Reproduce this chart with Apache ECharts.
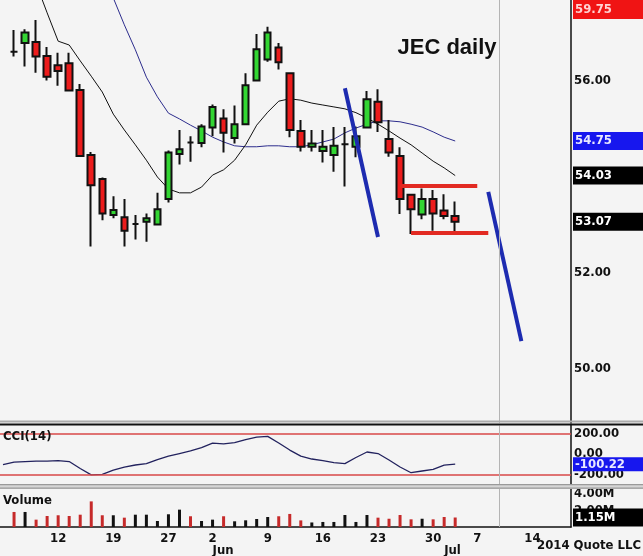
<!DOCTYPE html>
<html>
<head>
<meta charset="utf-8">
<script src="https://cdn.jsdelivr.net/npm/echarts@6/dist/echarts.min.js"></script>
<style>
  html, body { margin: 0; padding: 0; background: #f4f4f4; }
  #chart { width: 643px; height: 556px; }
</style>
</head>
<body>
<div id="chart"></div>
<script>
//---------------------------Data---------------------------
//trading slots (May 5 has no candle, after Jul 2 is empty future space)
let dates = ['May 5','May 6','May 7','May 8','May 9','May 12','May 13','May 14','May 15','May 16',
  'May 19','May 20','May 21','May 22','May 23','May 27','May 28','May 29','May 30',
  'Jun 2','Jun 3','Jun 4','Jun 5','Jun 6','Jun 9','Jun 10','Jun 11','Jun 12','Jun 13',
  'Jun 16','Jun 17','Jun 18','Jun 19','Jun 20','Jun 23','Jun 24','Jun 25','Jun 26','Jun 27',
  'Jun 30','Jul 1','Jul 2','Jul 3','Jul 7','Jul 8','Jul 9','Jul 10','Jul 11',
  'Jul 14','Jul 15','Jul 16','Jul 17'];

//candles May 6 .. Jul 2
let opens  = [56.61,56.79,56.81,56.52,56.33,56.37,55.81,54.46,53.96,53.21,53.16,53.02,53.07,53.01,53.54,54.48,54.72,54.71,
  55.03,55.22,54.81,55.10,56.01,56.45,56.70,56.16,54.96,54.63,54.54,54.46,54.68,54.63,55.03,55.57,54.79,54.44,53.63,53.22,53.54,53.30,53.19];
let closes = [56.61,57.01,56.51,56.09,56.21,55.80,54.44,53.83,53.24,53.31,52.88,53.02,53.14,53.33,54.51,54.58,54.72,55.05,
  55.46,54.92,55.10,55.91,56.66,57.01,56.39,54.98,54.63,54.70,54.63,54.65,54.68,54.85,55.62,55.14,54.51,53.54,53.33,53.54,53.24,53.19,53.07];
let lows   = [56.51,56.30,56.17,56.01,55.90,55.78,54.42,52.55,53.10,53.14,52.55,52.70,52.65,53.00,53.47,54.26,54.32,54.62,
  54.85,54.51,54.70,55.08,56.00,56.40,56.24,54.83,54.53,54.53,54.30,54.11,53.80,54.41,55.02,54.94,54.42,53.23,52.81,53.12,52.88,53.12,52.86];
let highs  = [57.06,57.08,57.27,56.71,56.59,56.59,55.94,54.52,53.99,53.60,53.54,53.21,53.24,53.67,54.55,54.98,54.85,55.10,
  55.51,55.41,55.49,56.16,56.98,57.13,56.79,56.17,55.19,54.98,54.98,55.04,55.04,55.05,55.79,55.83,55.19,54.62,53.65,53.76,53.73,53.64,53.49];

//moving averages May 5 .. Jul 2 (early values run above the top)
let ma10 = [59.8,59.25,58.6,58.03,57.42,56.83,56.75,56.42,56.10,55.77,55.31,54.98,54.67,54.35,54.00,53.75,53.67,53.67,53.79,
  54.04,54.15,54.35,54.67,55.08,55.35,55.58,55.63,55.60,55.54,55.50,55.46,55.42,55.34,55.23,55.10,54.96,54.81,54.67,54.50,54.33,54.19,54.03];
let ma20 = [61.3,61.1,60.9,60.6,60.3,59.9,59.6,59.2,58.75,58.25,57.73,57.17,56.65,56.08,55.67,55.33,55.21,55.08,54.96,
  54.83,54.73,54.65,54.63,54.63,54.65,54.65,54.63,54.63,54.67,54.73,54.79,54.92,55.02,55.10,55.17,55.17,55.15,55.10,55.04,54.94,54.83,54.75];

//CCI(14) May 5 .. Jul 2
let cci = [-105,-79,-74,-69,-69,-64,-74,-143,-205,-200,-158,-128,-108,-94,-54,-20,5,30,64,108,101,113,143,167,174,108,39,-20,-49,
  -64,-84,-94,-34,20,5,-59,-128,-184,-167,-151,-110,-100.22];

//volume in millions May 6 .. Jul 2, and bar colour (1 black, 0 red)
let volume = [1.82,1.82,0.89,1.33,1.42,1.33,1.49,3.1,1.42,1.42,1.13,1.49,1.49,0.73,1.54,2.1,1.3,0.73,0.89,1.3,0.69,0.81,0.97,1.21,
  1.3,1.58,0.8,0.55,0.61,0.61,1.45,0.61,1.45,1.13,1.0,1.45,0.93,1.0,0.93,1.21,1.15];
let volUp = [0,1,0,0,0,0,0,0,0,1,0,1,1,1,1,1,0,1,1,0,1,1,1,1,0,0,0,1,1,1,1,1,1,0,0,0,0,1,0,0,0];

//axis labels
let weekTicks = ['May 12','May 19','May 27','Jun 2','Jun 9','Jun 16','Jun 23','Jun 30','Jul 7','Jul 14'];
let monthTicks = ['Jun 2','Jul 1'];
let priceTicks = [50, 52, 56];
let cciTicks = [200, 0, -200];
let volTicks = [2, 4];

//last value tags
let tagTop = 59.75;
let tagMa20 = 54.75;
let tagMa10 = 54.03;
let tagClose = 53.07;
let tagCci = -100.22;
let tagVol = 1.15;

//hand drawn annotations
let blueLines = [[['Jun 18', 55.85], ['Jun 23', 52.75]], [['Jul 8', 53.69], ['Jul 11', 50.58]]];
let redLines = [[['Jun 25', 53.81], ['Jul 7', 53.81]], [['Jun 26', 52.83], ['Jul 8', 52.83]]];
let todayLine = 'Jul 9';

//---------------------------UI---------------------------
let chart = echarts.init(document.getElementById('chart'));
let narrow = '"Liberation Sans Narrow", "DejaVu Sans Condensed", sans-serif';
let lblFont = { fontFamily: narrow, fontWeight: 'bold', fontSize: 13, color: '#111' };

let candleData = dates.map(function (d, i) {
    let k = i - 1;
    if (k < 0 || k >= opens.length) return '-';
    return [opens[k], closes[k], lows[k], highs[k]];
});

let volData = dates.map(function (d, i) {
    let k = i - 1;
    if (k < 0 || k >= volume.length) return '-';
    return { value: volume[k], itemStyle: { color: volUp[k] ? '#111' : '#c62a2a' } };
});

//value box on the right axis
function tag(v, text, bg, fg, h) {
    return {
        yAxis: v,
        lineStyle: { color: 'rgba(0,0,0,0)', width: 0 },
        label: {
            show: true, position: 'end', distance: 2, formatter: text,
            backgroundColor: bg, color: fg, fontFamily: narrow, fontWeight: 'bold', fontSize: 13,
            width: 68, height: h, lineHeight: h, padding: [0, 0, 0, 2], align: 'left', verticalAlign: 'middle'
        }
    };
}

function segs(list, color) {
    return list.map(function (s) {
        return [{ coord: s[0], lineStyle: { color: color, width: 4, type: 'solid' } }, { coord: s[1] }];
    });
}

let vline = { xAxis: todayLine, lineStyle: { color: '#b4b4b4', width: 1, type: 'solid' }, label: { show: false } };
let gridBase = { left: -2.5, right: 72, outerBoundsMode: 'none' };
let axisLineY = { show: true, lineStyle: { color: '#111', width: 1.5 } };

option = {
    backgroundColor: '#f4f4f4',
    animation: false,
    grid: [
        Object.assign({ top: 0, height: 423 }, gridBase),
        Object.assign({ top: 425.6, height: 58.9 }, gridBase),
        Object.assign({ top: 489, height: 38 }, gridBase)
    ],
    xAxis: [
        { type: 'category', gridIndex: 0, data: dates, axisLine: { show: false }, axisTick: { show: false }, axisLabel: { show: false } },
        { type: 'category', gridIndex: 1, data: dates, axisLine: { show: false }, axisTick: { show: false }, axisLabel: { show: false } },
        { type: 'category', gridIndex: 2, data: dates,
          axisLine: { lineStyle: { color: '#111', width: 1.5 } }, axisTick: { show: false },
          axisLabel: Object.assign({ margin: 5, interval: function (i, v) { return weekTicks.indexOf(v) >= 0; },
              formatter: function (v) { return v.split(' ')[1]; } }, lblFont) },
        { type: 'category', gridIndex: 2, data: dates, position: 'bottom',
          axisLine: { show: false }, axisTick: { show: false },
          axisLabel: Object.assign({ margin: 17, align: 'left', interval: function (i, v) { return monthTicks.indexOf(v) >= 0; },
              formatter: function (v) { return v.split(' ')[0]; } }, lblFont) }
    ],
    yAxis: [
        { type: 'value', gridIndex: 0, position: 'right', min: 48.875, max: 57.6875,
          axisLine: axisLineY, axisTick: { show: false }, splitLine: { show: false },
          axisLabel: Object.assign({ margin: 3, customValues: priceTicks, formatter: function (v) { return v.toFixed(2); } }, lblFont) },
        { type: 'value', gridIndex: 1, position: 'right', min: -300, max: 280,
          axisLine: axisLineY, axisTick: { show: false }, splitLine: { show: false },
          axisLabel: Object.assign({ margin: 3, customValues: cciTicks, formatter: function (v) { return v.toFixed(2); } }, lblFont) },
        { type: 'value', gridIndex: 2, position: 'right', min: 0, max: 4.6,
          axisLine: axisLineY, axisTick: { show: false }, splitLine: { show: false },
          axisLabel: Object.assign({ margin: 3, customValues: volTicks, formatter: function (v) { return v.toFixed(2) + 'M'; } }, lblFont) }
    ],
    series: [
        { type: 'line', xAxisIndex: 0, yAxisIndex: 0, data: ma20, symbol: 'none', z: 3, clip: true,
          lineStyle: { color: '#2c2c8c', width: 1 } },
        { type: 'line', xAxisIndex: 0, yAxisIndex: 0, data: ma10, symbol: 'none', z: 3, clip: true,
          lineStyle: { color: '#111', width: 1 } },
        { type: 'candlestick', xAxisIndex: 0, yAxisIndex: 0, data: candleData, barWidth: 7, z: 4, clip: false,
          itemStyle: { color: '#33d633', color0: '#ec1c1c', borderColor: '#111', borderColor0: '#111', borderWidth: 2 },
          markLine: { silent: true, symbol: ['none', 'none'], animation: false, label: { show: false }, z: 6,
              data: segs(blueLines, '#1d2bb0').concat(segs(redLines, '#e22a22')).concat([
                  vline,
                  tag(tagMa20, tagMa20.toFixed(2), '#1717ee', '#e8e8ff', 18),
                  tag(tagMa10, tagMa10.toFixed(2), '#000', '#fff', 18),
                  tag(tagClose, tagClose.toFixed(2), '#000', '#fff', 18)
              ]) } },
        { type: 'line', xAxisIndex: 1, yAxisIndex: 1, data: cci, symbol: 'none', clip: false,
          lineStyle: { color: '#22225e', width: 1.3 },
          markLine: { silent: true, symbol: 'none', animation: false,
              data: [
                  { yAxis: 200, lineStyle: { color: '#d84848', width: 1.5, type: 'solid' }, label: { show: false } },
                  { yAxis: -200, lineStyle: { color: '#d84848', width: 1.5, type: 'solid' }, label: { show: false } },
                  vline,
                  tag(tagCci, tagCci.toFixed(2), '#1717ee', '#e8e8ff', 14)
              ] } },
        { type: 'bar', xAxisIndex: 2, yAxisIndex: 2, data: volData, barWidth: 3, clip: false,
          markLine: { silent: true, symbol: 'none', animation: false,
              data: [vline, tag(tagVol, tagVol.toFixed(2) + 'M', '#000', '#fff', 18)] } }
    ],
    graphic: [
        //panel separators
        { type: 'rect', shape: { x: 0, y: 420.5, width: 643, height: 2 }, style: { fill: '#ababab' }, z: 50 },
        { type: 'rect', shape: { x: 0, y: 423.5, width: 643, height: 2 }, style: { fill: '#111' }, z: 50 },
        { type: 'rect', shape: { x: 0, y: 484, width: 643, height: 5 }, style: { fill: '#d6d6d6' }, z: 50 },
        { type: 'rect', shape: { x: 0, y: 484, width: 643, height: 1.2 }, style: { fill: '#9a9a9a' }, z: 51 },
        { type: 'rect', shape: { x: 0, y: 487.5, width: 643, height: 1.2 }, style: { fill: '#9a9a9a' }, z: 51 },
        //off-chart high tag
        { type: 'rect', shape: { x: 573, y: 0, width: 70, height: 19 }, style: { fill: '#f01414' }, z: 60 },
        { type: 'text', x: 575, y: 10, z: 61,
          style: { text: tagTop.toFixed(2), fill: '#ffd2d2', font: 'bold 13px ' + narrow, verticalAlign: 'middle' } },
        //titles
        { type: 'text', x: 447, y: 48, z: 60,
          style: { text: 'JEC daily', fill: '#111', font: 'bold 22px "Liberation Sans", Arial, sans-serif', align: 'center', verticalAlign: 'middle' } },
        { type: 'text', x: 3, y: 437, z: 60,
          style: { text: 'CCI(14)', fill: '#111', font: 'bold 13px ' + narrow, verticalAlign: 'middle' } },
        { type: 'text', x: 3, y: 501, z: 60,
          style: { text: 'Volume', fill: '#111', font: 'bold 13px ' + narrow, verticalAlign: 'middle' } },
        { type: 'text', x: 641, y: 546, z: 60,
          style: { text: '2014 Quote LLC', fill: '#111', font: 'bold 13px ' + narrow, align: 'right', verticalAlign: 'middle' } }
    ]
};

chart.setOption(option);
</script>
</body>
</html>
